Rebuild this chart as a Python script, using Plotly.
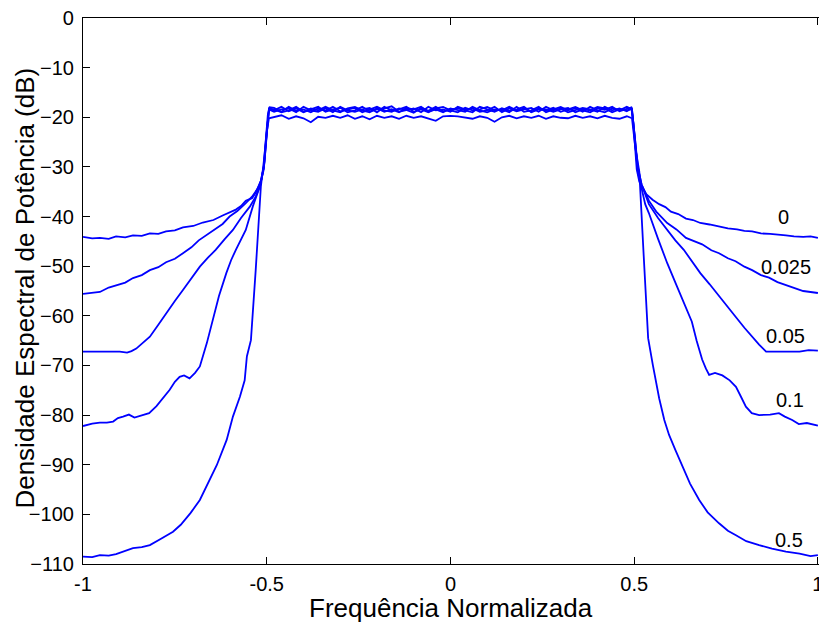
import plotly.graph_objects as go

# ---------------- data ----------------
PASS_X = [-0.48, -0.46, -0.44, -0.42, -0.40, -0.38, -0.36,
          -0.34, -0.32, -0.30, -0.28, -0.26, -0.24, -0.22,
          -0.20, -0.18, -0.16, -0.14, -0.12, -0.10, -0.08,
          -0.06, -0.04, -0.02, 0.00, 0.02, 0.04, 0.06,
          0.08, 0.10, 0.12, 0.14, 0.16, 0.18, 0.20,
          0.22, 0.24, 0.26, 0.28, 0.30, 0.32, 0.34,
          0.36, 0.38, 0.40, 0.42, 0.44, 0.46, 0.48]

# roll-off 0
L0_X = [-1.0, -0.975, -0.954, -0.930, -0.910, -0.885, -0.864, -0.840, -0.818, -0.795,
        -0.774, -0.750, -0.728, -0.700, -0.674, -0.645, -0.620, -0.600, -0.584, -0.570,
        -0.557, -0.540, -0.530, -0.516, -0.508, -0.503, -0.497, -0.492]
L0_Y = [-44.1, -44.4, -44.3, -44.5, -44.0, -44.2, -43.8, -43.9, -43.4, -43.5,
        -43.0, -42.8, -42.2, -41.9, -41.2, -40.7, -39.8, -39.2, -38.6, -37.9,
        -36.8, -36.3, -35.2, -32.8, -30.0, -25.0, -19.5, -18.0]
P0_Y = [-18.1, -18.9, -17.9, -18.7, -18.4, -19.0, -18.2,
        -18.7, -17.9, -18.8, -18.4, -18.1, -19.0, -18.4,
        -17.9, -18.6, -18.9, -18.2, -18.5, -19.1, -18.1,
        -18.7, -17.9, -18.8, -18.4, -18.2, -18.6, -19.0,
        -17.9, -18.4, -18.9, -18.2, -18.7, -18.4, -17.9,
        -19.0, -18.4, -18.6, -18.1, -18.9, -18.4, -17.9,
        -18.6, -19.0, -18.2, -18.5, -17.9, -18.8, -18.3]
R0_X = [0.492, 0.497, 0.502, 0.507, 0.514, 0.533, 0.550, 0.568, 0.585, 0.600,
        0.620, 0.641, 0.660, 0.680, 0.705, 0.731, 0.755, 0.780, 0.800, 0.821,
        0.845, 0.870, 0.890, 0.913, 0.935, 0.960, 0.980, 1.0]
R0_Y = [-18.0, -20.5, -26.0, -30.5, -33.0, -35.5, -36.6, -37.5, -38.1, -39.0,
        -39.5, -40.4, -40.7, -41.3, -41.6, -42.0, -42.4, -42.6, -42.9, -43.0,
        -43.4, -43.5, -43.6, -43.8, -44.0, -44.1, -44.0, -44.3]

# roll-off 0.025
L1_X = [-1.0, -0.975, -0.954, -0.930, -0.910, -0.885, -0.864, -0.840, -0.818, -0.795,
        -0.774, -0.750, -0.728, -0.705, -0.685, -0.655, -0.620, -0.601, -0.580, -0.557,
        -0.540, -0.524, -0.514, -0.506, -0.499, -0.493]
L1_Y = [-55.6, -55.4, -55.2, -54.3, -53.8, -53.3, -52.4, -51.8, -50.8, -50.2,
        -49.2, -48.5, -47.4, -46.2, -44.8, -43.3, -41.5, -40.0, -38.9, -37.3,
        -36.0, -34.3, -32.5, -29.0, -22.0, -18.2]
P1_Y = [-18.6, -17.9, -18.8, -18.2, -19.0, -18.4, -17.9,
        -18.9, -18.4, -18.1, -19.0, -18.6, -17.9, -18.8,
        -18.4, -18.2, -17.8, -18.9, -18.6, -18.2, -19.0,
        -17.9, -18.6, -18.4, -18.9, -17.9, -18.4, -18.2,
        -18.9, -18.6, -17.9, -19.0, -18.2, -18.8, -18.4,
        -18.1, -18.9, -17.9, -18.6, -18.2, -19.0, -18.6,
        -18.1, -18.4, -18.9, -17.9, -18.6, -18.2, -18.8]
R1_X = [0.493, 0.502, 0.508, 0.520, 0.540, 0.560, 0.590, 0.615, 0.641, 0.665,
        0.685, 0.710, 0.731, 0.755, 0.776, 0.800, 0.821, 0.845, 0.867, 0.890,
        0.913, 0.935, 0.960, 0.980, 1.0]
R1_Y = [-18.2, -24.0, -29.5, -33.5, -36.8, -39.0, -41.3, -42.6, -44.3, -45.0,
        -45.6, -46.8, -47.4, -48.4, -49.0, -50.1, -50.8, -51.8, -52.3, -53.2,
        -53.8, -54.4, -55.0, -55.2, -55.4]

# roll-off 0.05
L2_X = [-1.0, -0.950, -0.900, -0.880, -0.868, -0.855, -0.840, -0.818, -0.795, -0.774,
        -0.750, -0.728, -0.705, -0.682, -0.660, -0.639, -0.615, -0.592, -0.570, -0.546,
        -0.530, -0.519, -0.508, -0.500, -0.494]
L2_Y = [-67.2, -67.2, -67.2, -67.4, -67.1, -66.6, -65.6, -64.2, -61.8, -59.5,
        -57.0, -54.8, -52.5, -50.1, -48.3, -46.7, -44.6, -42.7, -40.3, -38.0,
        -36.0, -34.0, -30.5, -23.0, -18.4]
P2_Y = [-18.9, -18.4, -18.2, -19.0, -17.9, -18.6, -18.9,
        -18.2, -19.0, -17.9, -18.6, -18.9, -18.4, -18.1,
        -19.0, -17.9, -18.6, -18.4, -17.9, -18.9, -18.4,
        -19.0, -18.2, -17.9, -18.6, -19.0, -18.1, -18.6,
        -18.4, -17.9, -18.6, -18.4, -19.0, -17.9, -18.9,
        -18.6, -17.9, -19.0, -18.4, -17.9, -18.6, -18.2,
        -18.9, -17.9, -18.6, -19.0, -18.2, -18.6, -17.9]
R2_X = [0.494, 0.503, 0.510, 0.520, 0.540, 0.565, 0.590, 0.612, 0.635, 0.658,
        0.680, 0.705, 0.731, 0.754, 0.776, 0.800, 0.821, 0.840, 0.859, 0.900,
        0.950, 0.975, 1.0]
R2_Y = [-18.4, -25.0, -30.0, -33.5, -37.5, -40.3, -42.7, -44.8, -46.7, -49.2,
        -51.4, -53.6, -56.1, -58.1, -60.2, -62.4, -64.2, -65.8, -67.2, -67.2,
        -67.2, -66.9, -67.0]

# roll-off 0.1
L3_X = [-1.0, -0.975, -0.954, -0.935, -0.918, -0.905, -0.891, -0.875, -0.860, -0.845,
        -0.820, -0.800, -0.780, -0.764, -0.750, -0.737, -0.725, -0.710, -0.695, -0.682,
        -0.663, -0.645, -0.630, -0.610, -0.597, -0.584, -0.570, -0.557, -0.538, -0.519,
        -0.508, -0.500, -0.494]
L3_Y = [-82.2, -81.7, -81.5, -81.5, -81.3, -80.6, -80.3, -79.9, -80.5, -80.2,
        -79.6, -78.2, -76.3, -74.9, -73.3, -72.3, -72.0, -72.6, -71.5, -70.2,
        -65.5, -60.2, -56.0, -51.4, -48.8, -46.7, -44.6, -42.7, -38.0, -34.0,
        -30.0, -23.0, -18.3]
P3_Y = [-18.4, -19.0, -18.6, -17.9, -18.9, -18.2, -18.6,
        -17.9, -18.6, -19.0, -18.2, -17.9, -18.6, -19.0,
        -18.2, -18.9, -18.4, -19.0, -18.1, -18.4, -17.9,
        -18.9, -18.4, -19.0, -18.2, -18.6, -18.9, -17.9,
        -18.6, -19.0, -18.4, -18.6, -17.9, -18.6, -18.2,
        -18.9, -18.2, -18.4, -18.9, -18.4, -18.1, -19.0,
        -18.4, -18.6, -17.9, -18.2, -19.0, -18.4, -18.6]
R3_X = [0.494, 0.503, 0.510, 0.530, 0.540, 0.565, 0.590, 0.615, 0.641, 0.657,
        0.670, 0.685, 0.695, 0.704, 0.720, 0.740, 0.760, 0.777, 0.790, 0.804,
        0.820, 0.840, 0.870, 0.894, 0.910, 0.930, 0.948, 0.970, 1.0]
R3_Y = [-18.3, -25.0, -31.0, -37.5, -39.3, -44.5, -49.4, -53.8, -58.2, -61.2,
        -65.0, -68.8, -70.6, -71.9, -71.5, -72.0, -73.0, -74.3, -76.2, -78.3,
        -79.6, -80.0, -79.9, -79.6, -80.3, -81.0, -81.8, -81.6, -82.1]

# roll-off 0.5
L4_X = [-1.0, -0.975, -0.954, -0.930, -0.910, -0.885, -0.864, -0.840, -0.818, -0.790,
        -0.755, -0.734, -0.707, -0.682, -0.655, -0.636, -0.609, -0.592, -0.573, -0.560,
        -0.554, -0.543, -0.530, -0.516, -0.508, -0.500, -0.494]
L4_Y = [-108.5, -108.6, -108.2, -108.3, -108.0, -107.4, -106.8, -106.6, -106.2, -105.0,
        -103.5, -102.1, -99.7, -97.1, -93.1, -90.1, -85.0, -80.3, -76.3, -73.0,
        -68.2, -64.9, -50.8, -34.0, -29.0, -23.0, -20.2]
P4_Y = [-20.0, -19.6, -20.3, -19.8, -20.2, -21.0, -19.9,
        -20.1, -19.7, -20.1, -19.6, -20.3, -19.8, -20.4,
        -19.7, -20.1, -19.8, -20.3, -19.7, -20.1, -19.8,
        -20.2, -20.7, -19.8, -19.7, -19.8, -20.0, -20.3,
        -19.8, -20.1, -20.9, -20.0, -19.7, -20.2, -19.8,
        -20.1, -19.7, -20.3, -19.8, -20.1, -20.2, -19.7,
        -20.1, -19.8, -20.2, -19.7, -20.1, -20.3, -19.8]
R4_X = [0.494, 0.503, 0.510, 0.514, 0.526, 0.538, 0.551, 0.560, 0.568, 0.582,
        0.595, 0.612, 0.630, 0.652, 0.677, 0.700, 0.731, 0.755, 0.777, 0.805,
        0.840, 0.875, 0.913, 0.950, 0.980, 1.0]
R4_Y = [-20.2, -26.0, -29.5, -31.0, -48.0, -64.5, -70.0, -73.5, -76.6, -81.0,
        -84.0, -87.0, -90.0, -93.8, -97.1, -99.6, -101.8, -103.3, -104.2, -105.4,
        -106.2, -106.9, -107.5, -107.9, -108.4, -108.2]

CURVES = [
    ("0", L0_X, L0_Y, P0_Y, R0_X, R0_Y),
    ("0.025", L1_X, L1_Y, P1_Y, R1_X, R1_Y),
    ("0.05", L2_X, L2_Y, P2_Y, R2_X, R2_Y),
    ("0.1", L3_X, L3_Y, P3_Y, R3_X, R3_Y),
    ("0.5", L4_X, L4_Y, P4_Y, R4_X, R4_Y),
]

LABELS = ["0", "0.025", "0.05", "0.1", "0.5"]
LABEL_X = [0.906, 0.914, 0.913, 0.924, 0.921]
LABEL_Y = [-40.0, -50.1, -64.0, -77.0, -105.1]

X_TICKS = [-1, -0.5, 0, 0.5, 1]
X_TICK_TEXT = ["-1", "-0.5", "0", "0.5", "1"]
Y_TICKS = [0, -10, -20, -30, -40, -50, -60, -70, -80, -90, -100, -110]

# ---------------- figure ----------------
FONT = "Liberation Sans, Arial, sans-serif"
fig = go.Figure()
for name, lx, ly, py, rx, ry in CURVES:
    fig.add_trace(go.Scatter(
        x=lx + PASS_X + rx, y=ly + py + ry, mode="lines", name=name,
        line=dict(color="#0000ff", width=1.8), showlegend=False,
        hoverinfo="skip"))

for t, x, y in zip(LABELS, LABEL_X, LABEL_Y):
    fig.add_annotation(x=x, y=y, text=t, showarrow=False, xref="x", yref="y",
                       font=dict(family=FONT, size=20, color="black"))

fig.add_annotation(text="Frequência Normalizada", xref="paper", yref="paper",
                   x=0.5, y=-0.081, xanchor="center", yanchor="middle",
                   showarrow=False, font=dict(family=FONT, size=26, color="black"))
fig.add_annotation(text="Densidade Espectral de Potência (dB)", xref="paper", yref="paper",
                   x=-0.079, y=0.506, xanchor="center", yanchor="middle", textangle=-90,
                   showarrow=False, font=dict(family=FONT, size=26, color="black"))

fig.update_layout(
    width=819, height=623,
    margin=dict(l=83, r=0, t=18, b=59, autoexpand=False),
    paper_bgcolor="white", plot_bgcolor="white",
    font=dict(family=FONT, size=20, color="black"),
    xaxis=dict(range=[-1, 1.003], tickvals=X_TICKS, ticktext=X_TICK_TEXT,
               ticks="inside", ticklen=7, tickcolor="black", tickwidth=1,
               showline=True, linecolor="black", linewidth=1.2, mirror="ticks",
               showgrid=False, zeroline=False, ticklabelstandoff=2,
               ticklabeloverflow="allow", automargin=False,
               tickfont=dict(family=FONT, size=20, color="black")),
    yaxis=dict(range=[-110, 0], tickvals=Y_TICKS,
               ticks="inside", ticklen=7, tickcolor="black", tickwidth=1,
               showline=True, linecolor="black", linewidth=1.2, mirror=False,
               showgrid=False, zeroline=False, ticklabelstandoff=4, automargin=False,
               tickfont=dict(family=FONT, size=20, color="black")),
    yaxis2=dict(range=[-110, 0], tickvals=Y_TICKS, overlaying="y", side="right",
                anchor="x", ticks="inside", ticklen=7, tickcolor="black", tickwidth=1,
                showline=False, showticklabels=False, showgrid=False, zeroline=False,
                automargin=False),
)

fig.write_html("out.html")
